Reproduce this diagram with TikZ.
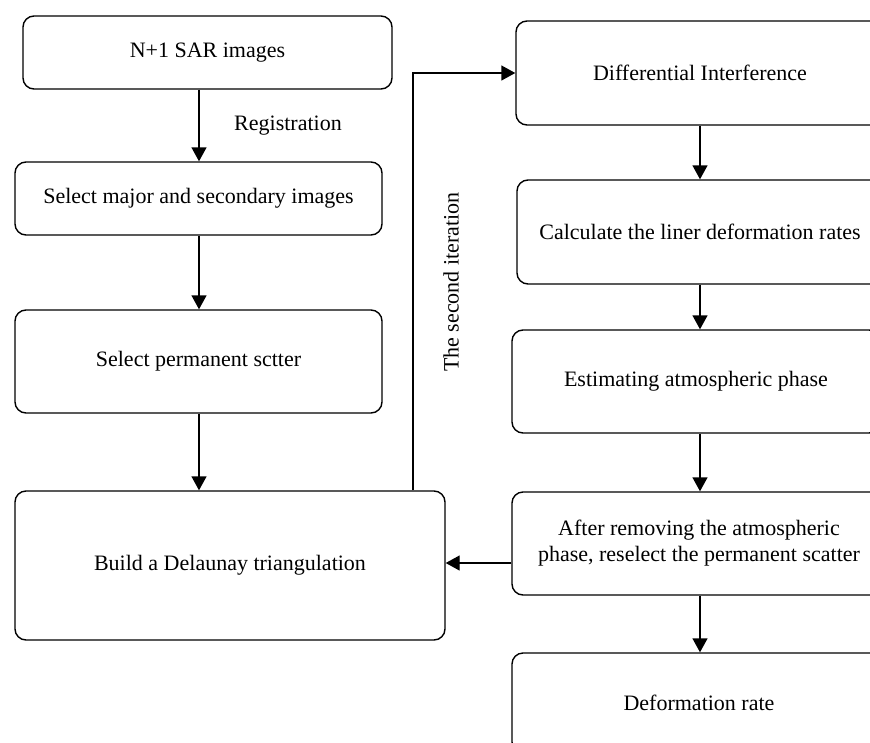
\documentclass[tikz,border=0pt]{standalone}
\usepackage{fontspec}
\setmainfont{Liberation Serif}
\usetikzlibrary{arrows.meta}
\begin{document}
\begin{tikzpicture}[x=1pt,y=-1pt,
  box/.style={draw, line width=1.4pt, rounded corners=11pt, align=center, font=\fontsize{22}{26}\selectfont, inner sep=0pt},
  lbl/.style={font=\fontsize{22}{26}\selectfont, inner sep=0pt},
  arr/.style={line width=1.4pt, -{Triangle[length=14pt,width=15pt]}},
  ln/.style={line width=1.4pt}]
\useasboundingbox (0,0) rectangle (870,742);
\clip (0,0) rectangle (870,742);
% left column
\node[box, minimum width=369, minimum height=73] (b1) at (207.5,52.5) {N+1 SAR images};
\node[box, minimum width=367, minimum height=73] (b2) at (198.5,198.5) {Select major and secondary images};
\node[box, minimum width=367, minimum height=103] (b3) at (198.5,361.5) {Select permanent sctter};
\node[box, minimum width=430, minimum height=149] (b4) at (230,565.5) {Build a Delaunay triangulation};
% right column
\node[box, minimum width=368, minimum height=104] (r1) at (700,73) {Differential Interference};
\node[box, minimum width=366, minimum height=104] (r2) at (700,232) {Calculate the liner deformation rates};
\node[box, minimum width=368, minimum height=103] (r3) at (696,381.5) {Estimating atmospheric phase};
\node[box, minimum width=374, minimum height=103] (r4) at (699,543.5) {After removing the atmospheric\\phase, reselect the permanent scatter};
\node[box, minimum width=374, minimum height=100] (r5) at (699,703) {Deformation rate};
% helper coordinates
\coordinate (lx) at (199,0);
\coordinate (rx) at (700,0);
\coordinate (itx) at (413,0);
% left arrows
\draw[arr] (b1.south -| lx) -- (b2.north -| lx);
\draw[arr] (b2.south -| lx) -- (b3.north -| lx);
\draw[arr] (b3.south -| lx) -- (b4.north -| lx);
\node[lbl] (reg) at (288,126) {Registration};
% right arrows
\draw[arr] (r1.south -| rx) -- (r2.north -| rx);
\draw[arr] (r2.south -| rx) -- (r3.north -| rx);
\draw[arr] (r3.south -| rx) -- (r4.north -| rx);
\draw[arr] (r4.south -| rx) -- (r5.north -| rx);
% feedback
\draw[arr] ([yshift=-19.5pt]r4.west) coordinate (t) -- (t -| b4.east);
\draw[arr] (b4.north -| itx) |- (r1.west);
\node[lbl, rotate=90] (it) at (451,282) {The second iteration};
\end{tikzpicture}
\end{document}
